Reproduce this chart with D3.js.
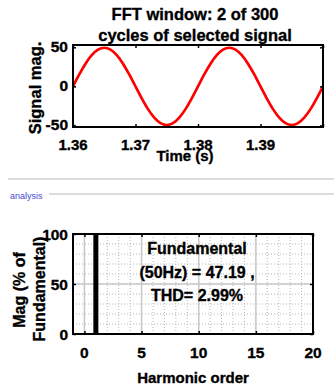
<!DOCTYPE html>
<html>
<head>
<meta charset="utf-8">
<script src="https://cdn.jsdelivr.net/npm/d3@7"></script>
<style>
body { margin: 0; background: #fff; }
text { font-family: "Liberation Sans", Arial, sans-serif; font-weight: bold; fill: #000; stroke: #000; stroke-width: 0.35px; }
</style>
</head>
<body>
<div id="div1"></div>
<script>
// signal samples, one per millisecond
var times = [1.360, 1.361, 1.362, 1.363, 1.364, 1.365, 1.366, 1.367, 1.368, 1.369,
             1.370, 1.371, 1.372, 1.373, 1.374, 1.375, 1.376, 1.377, 1.378, 1.379,
             1.380, 1.381, 1.382, 1.383, 1.384, 1.385, 1.386, 1.387, 1.388, 1.389,
             1.390, 1.391, 1.392, 1.393, 1.394, 1.395, 1.396, 1.397, 1.398, 1.399, 1.400];
var signal = [0, 15.3, 29.1, 40.0, 47.1, 49.5, 47.1, 40.0, 29.1, 15.3,
              0, -15.3, -29.1, -40.0, -47.1, -49.5, -47.1, -40.0, -29.1, -15.3,
              0, 15.3, 29.1, 40.0, 47.1, 49.5, 47.1, 40.0, 29.1, 15.3,
              0, -15.3, -29.1, -40.0, -47.1, -49.5, -47.1, -40.0, -29.1, -15.3, 0];
var timeTicks = [1.36, 1.37, 1.38, 1.39, 1.40];
var signalTicks = [-50, 0, 50];

// harmonic spectrum (% of fundamental)
var harmonics = [0, 1, 2, 3, 4, 5, 6, 7, 8, 9, 10, 11, 12, 13, 14, 15, 16, 17, 18, 19, 20];
var magnitudes = [0, 100, 0, 0, 0, 0, 0, 0, 0, 0, 0, 0, 0, 0, 0, 0, 0, 0, 0, 0, 0];
var harmTicks = [0, 5, 10, 15, 20];
var magTicks = [0, 50, 100];
var infoLines = ["Fundamental", "(50Hz) = 47.19 ,", "THD= 2.99%"];

var svg = d3.select("#div1").append("svg").attr("width", 334).attr("height", 389);

// ---------- top plot ----------
var x1 = d3.scaleLinear().domain([1.36, 1.40]).range([73, 323]);
var y1 = d3.scaleLinear().domain([-52, 53]).range([127, 45]);

svg.append("text").attr("x", 195).attr("y", 20).attr("text-anchor", "middle")
    .style("font-size", "16.5px").text("FFT window: 2 of 300");
svg.append("text").attr("x", 195).attr("y", 41).attr("text-anchor", "middle")
    .style("font-size", "16.5px").text("cycles of selected signal");

var line = d3.line().x(function (d, i) { return x1(times[i]); })
    .y(function (d) { return y1(d); }).curve(d3.curveCardinal);
svg.append("path").datum(signal).attr("d", line)
    .attr("fill", "none").attr("stroke", "#ff0000").attr("stroke-width", 2.7);

// ticks inside on all sides
var topAxes = svg.append("g");
topAxes.append("g").attr("transform", "translate(0,127)")
    .call(d3.axisBottom(x1).tickValues(timeTicks).tickSize(-3).tickFormat(""));
topAxes.append("g").attr("transform", "translate(0,45)")
    .call(d3.axisTop(x1).tickValues(timeTicks).tickSize(-3).tickFormat(""));
topAxes.append("g").attr("transform", "translate(73,0)")
    .call(d3.axisLeft(y1).tickValues(signalTicks).tickSize(-3).tickFormat(""));
topAxes.append("g").attr("transform", "translate(323,0)")
    .call(d3.axisRight(y1).tickValues(signalTicks).tickSize(-3).tickFormat(""));
topAxes.selectAll(".domain").remove();
topAxes.selectAll(".tick line").attr("stroke", "#000").attr("stroke-width", 1.5);

svg.append("rect").attr("x", 73).attr("y", 45).attr("width", 250).attr("height", 82)
    .attr("fill", "none").attr("stroke", "#000").attr("stroke-width", 2);

svg.selectAll(".tl1").data(timeTicks.slice(0, 4)).enter().append("text")
    .attr("x", function (d) { return x1(d); }).attr("y", 150)
    .attr("text-anchor", "middle").style("font-size", "15px")
    .text(function (d) { return d3.format(".2f")(d); });
svg.selectAll(".sl1").data(signalTicks).enter().append("text")
    .attr("x", 68).attr("y", function (d) { return y1(d) + 5; })
    .attr("text-anchor", "end").style("font-size", "15.5px")
    .text(function (d) { return d; });

svg.append("text").attr("x", 185).attr("y", 161).attr("text-anchor", "middle")
    .style("font-size", "15px").text("Time (s)");
svg.append("text").attr("transform", "translate(41,88) rotate(-90)")
    .attr("text-anchor", "middle").style("font-size", "16.5px").text("Signal mag.");

// ---------- separator ----------
svg.append("line").attr("x1", 8).attr("x2", 334).attr("y1", 179).attr("y2", 179)
    .attr("stroke", "#d0d0d0").attr("stroke-width", 1.5);
svg.append("text").attr("x", 10).attr("y", 199)
    .style("font-size", "9px").style("font-weight", "normal").style("fill", "#4a4ad0")
    .style("stroke", "none")
    .text("analysis");
svg.append("line").attr("x1", 49).attr("x2", 334).attr("y1", 194).attr("y2", 194)
    .attr("stroke", "#d0d0d0").attr("stroke-width", 1.5);

// ---------- bottom plot ----------
var x2 = d3.scaleLinear().domain([-1, 20]).range([73, 313]);
var y2 = d3.scaleLinear().domain([0, 100]).range([334, 234]);

var grid = svg.append("g");
grid.selectAll(".mx").data(d3.range(-1, 21)).enter().append("line")
    .attr("x1", function (d) { return x2(d); }).attr("x2", function (d) { return x2(d); })
    .attr("y1", 234).attr("y2", 334)
    .attr("stroke", "#b0b0b0").attr("stroke-width", 0.9).attr("stroke-dasharray", "1,2");
grid.selectAll(".my").data(d3.range(10, 100, 10)).enter().append("line")
    .attr("x1", 73).attr("x2", 313)
    .attr("y1", function (d) { return y2(d); }).attr("y2", function (d) { return y2(d); })
    .attr("stroke", "#b0b0b0").attr("stroke-width", 0.9).attr("stroke-dasharray", "1,2");
grid.selectAll(".gx").data(harmTicks).enter().append("line")
    .attr("x1", function (d) { return x2(d); }).attr("x2", function (d) { return x2(d); })
    .attr("y1", 234).attr("y2", 334).attr("stroke", "#c8c8c8").attr("stroke-width", 1.5);
grid.selectAll(".gy").data([50]).enter().append("line")
    .attr("x1", 73).attr("x2", 313)
    .attr("y1", function (d) { return y2(d); }).attr("y2", function (d) { return y2(d); })
    .attr("stroke", "#c8c8c8").attr("stroke-width", 1.5);

var botAxes = svg.append("g");
botAxes.append("g").attr("transform", "translate(0,334)")
    .call(d3.axisBottom(x2).tickValues(harmTicks).tickSize(-3).tickFormat(""));
botAxes.append("g").attr("transform", "translate(0,234)")
    .call(d3.axisTop(x2).tickValues(harmTicks).tickSize(-3).tickFormat(""));
botAxes.append("g").attr("transform", "translate(73,0)")
    .call(d3.axisLeft(y2).tickValues(magTicks).tickSize(-3).tickFormat(""));
botAxes.append("g").attr("transform", "translate(313,0)")
    .call(d3.axisRight(y2).tickValues(magTicks).tickSize(-3).tickFormat(""));
botAxes.selectAll(".domain").remove();
botAxes.selectAll(".tick line").attr("stroke", "#000").attr("stroke-width", 1.5);

svg.selectAll(".bar").data(magnitudes).enter().append("rect")
    .attr("x", function (d, i) { return x2(harmonics[i]) - 2.5; })
    .attr("y", function (d) { return y2(d); })
    .attr("width", 5)
    .attr("height", function (d) { return 334 - y2(d); })
    .attr("fill", "#000");

svg.append("rect").attr("x", 73).attr("y", 234).attr("width", 240).attr("height", 100)
    .attr("fill", "none").attr("stroke", "#000").attr("stroke-width", 2);

svg.selectAll(".info").data(infoLines).enter().append("text")
    .attr("x", 197).attr("y", function (d, i) { return 254 + i * 23.5; })
    .attr("text-anchor", "middle").style("font-size", "16px")
    .text(function (d) { return d; });

svg.selectAll(".hl").data(harmTicks).enter().append("text")
    .attr("x", function (d) { return x2(d); }).attr("y", 358)
    .attr("text-anchor", "middle").style("font-size", "15.5px")
    .text(function (d) { return d; });
svg.selectAll(".ml").data(magTicks).enter().append("text")
    .attr("x", 68).attr("y", function (d) { return y2(d) + 5.5; })
    .attr("text-anchor", "end").style("font-size", "15.5px")
    .text(function (d) { return d; });

svg.append("text").attr("x", 193).attr("y", 383).attr("text-anchor", "middle")
    .style("font-size", "15px").text("Harmonic order");
svg.append("text").attr("transform", "translate(25,290) rotate(-90)")
    .attr("text-anchor", "middle").style("font-size", "16px").text("Mag (% of");
svg.append("text").attr("transform", "translate(45,289) rotate(-90)")
    .attr("text-anchor", "middle").style("font-size", "16px").text("Fundamental)");
</script>
</body>
</html>
